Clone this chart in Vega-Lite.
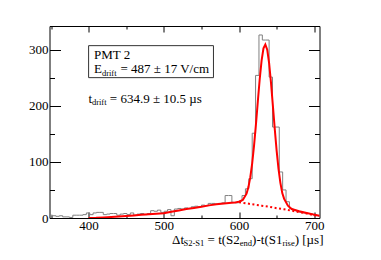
{
  "$schema": "https://vega.github.io/schema/vega-lite/v6.json",
  "width": 270,
  "height": 192,
  "autosize": "none",
  "padding": {"left": 49.5, "top": 26, "right": 61.5, "bottom": 42},
  "background": "white",
  "config": {
    "view": {"stroke": null},
    "axis": {
      "grid": false, "title": null, "domainColor": "black", "tickColor": "black",
      "domainWidth": 1, "tickWidth": 1, "labelFont": "Liberation Serif",
      "labelFontSize": 13, "labelColor": "black"
    },
    "text": {"font": "Liberation Serif", "color": "black"}
  },
  "datasets": {
    "hist": [
      {"t":347.5,"n":5},{"t":352,"n":4},{"t":356.5,"n":3},{"t":361,"n":4},{"t":365.5,"n":2},{"t":370,"n":2},{"t":374.5,"n":1},{"t":379,"n":5},{"t":383.5,"n":5},{"t":388,"n":5},{"t":392.5,"n":6},{"t":397,"n":9},{"t":401.5,"n":6},{"t":406,"n":9},{"t":410.5,"n":10},{"t":415,"n":10},{"t":419.5,"n":6},{"t":424,"n":7},{"t":428.5,"n":8},{"t":433,"n":8},{"t":437.5,"n":5},{"t":442,"n":7},{"t":446.5,"n":8},{"t":451,"n":6},{"t":455.5,"n":9},{"t":460,"n":5},{"t":464.5,"n":7},{"t":469,"n":8},{"t":473.5,"n":6},{"t":478,"n":8},{"t":482.5,"n":13},{"t":487,"n":12},{"t":491.5,"n":14},{"t":496,"n":10},{"t":500.5,"n":12},{"t":505,"n":15},{"t":509.5,"n":4},{"t":514,"n":16},{"t":518.5,"n":17},{"t":523,"n":16},{"t":527.5,"n":18},{"t":532,"n":17},{"t":536.5,"n":20},{"t":541,"n":21},{"t":545.5,"n":20},{"t":550,"n":23},{"t":554.5,"n":22},{"t":559,"n":26},{"t":563.5,"n":26},{"t":568,"n":25},{"t":572.5,"n":26},{"t":577,"n":27},{"t":581.5,"n":40},{"t":586,"n":40},{"t":590.5,"n":28},{"t":595,"n":27},{"t":599.5,"n":30},{"t":604,"n":40},{"t":608.5,"n":52},{"t":613,"n":70},{"t":617.5,"n":151},{"t":622,"n":254},{"t":626.5,"n":326},{"t":631,"n":317},{"t":635.5,"n":317},{"t":640,"n":251},{"t":644.5,"n":162},{"t":649,"n":162},{"t":653.5,"n":82},{"t":658,"n":50},{"t":662.5,"n":29},{"t":667,"n":17},{"t":671.5,"n":14},{"t":676,"n":12},{"t":680.5,"n":10},{"t":685,"n":9},{"t":689.5,"n":8},{"t":694,"n":7},{"t":698.5,"n":5},{"t":703,"n":4},{"t":707.5,"n":4}
    ],
    "fit": [
      {"t":400,"f":0},{"t":410,"f":0.3},{"t":420,"f":1},{"t":430,"f":1.8},{"t":440,"f":2.7},{"t":450,"f":3.6},{"t":460,"f":4.6},{"t":470,"f":5.6},{"t":480,"f":6.6},{"t":490,"f":7.5},{"t":500,"f":8.5},{"t":510,"f":11},{"t":520,"f":13.5},{"t":530,"f":16},{"t":540,"f":18},{"t":550,"f":20},{"t":560,"f":22.5},{"t":570,"f":24.5},{"t":580,"f":26},{"t":590,"f":27.3},{"t":595,"f":27.8},{"t":600,"f":29.2},{"t":605,"f":32},{"t":610,"f":43.3},{"t":612.5,"f":55.1},{"t":615,"f":72.8},{"t":617.5,"f":97.5},{"t":620,"f":129.2},{"t":622.5,"f":166.9},{"t":625,"f":207.6},{"t":627.5,"f":247.2},{"t":630,"f":280.3},{"t":632.5,"f":302.1},{"t":635,"f":309},{"t":637.5,"f":299.8},{"t":640,"f":276},{"t":642.5,"f":241.2},{"t":645,"f":200.3},{"t":647.5,"f":158.7},{"t":650,"f":119.9},{"t":652.5,"f":87.7},{"t":655,"f":62.6},{"t":657.5,"f":44.4},{"t":660,"f":34},{"t":665,"f":22},{"t":670,"f":16},{"t":680,"f":12},{"t":690,"f":9},{"t":700,"f":6},{"t":707,"f":4}
    ],
    "bg": [
      {"t":600,"b":28},{"t":610,"b":26},{"t":620,"b":24},{"t":630,"b":22},{"t":640,"b":20},{"t":650,"b":17.5},{"t":660,"b":15.5},{"t":670,"b":13},{"t":680,"b":10.5},{"t":690,"b":8},{"t":700,"b":5},{"t":707,"b":3.5}
    ],
    "box": [{"x1":400,"x2":566,"y1":250,"y2":307}],
    "main": [
      {"x":407.2,"y":282.7,"txt":"PMT 2"},
      {"x":407.2,"y":257.7,"txt":"E"},
      {"x":442.4,"y":257.7,"txt":"= 487 ± 17 V/cm"},
      {"x":400,"y":204.3,"txt":"t"},
      {"x":428.2,"y":204.3,"txt":"= 634.9 ± 10.5 µs"},
      {"x":510.9,"y":-45.6,"txt":"Δt"},
      {"x":558.2,"y":-45.6,"txt":"= t(S2"},
      {"x":617.4,"y":-45.6,"txt":")-t(S1"},
      {"x":674.0,"y":-45.6,"txt":") [µs]"}
    ],
    "subs": [
      {"x":417.7,"y":253.8,"txt":"drift"},
      {"x":404.4,"y":200.4,"txt":"drift"},
      {"x":526.25,"y":-50.1,"txt":"S2-S1"},
      {"x":601.0,"y":-50.1,"txt":"end"},
      {"x":657.7,"y":-50.1,"txt":"rise"}
    ]
  },
  "resolve": {"axis": {"x": "independent", "y": "independent"}},
  "layer": [
    {
      "data": {"name": "hist"},
      "mark": {"type": "line", "interpolate": "step-after", "color": "#808080", "strokeWidth": 1, "clip": true},
      "encoding": {
        "x": {"field": "t", "type": "quantitative", "scale": {"domain": [348, 707], "nice": false, "zero": false},
          "axis": {"orient": "bottom", "values": [400, 500, 600, 700], "tickSize": -6, "labelPadding": 7.5, "labelBaseline": "top"}},
        "y": {"field": "n", "type": "quantitative", "scale": {"domain": [0, 342], "nice": false, "zero": false},
          "axis": {"orient": "left", "values": [0, 100, 200, 300], "tickSize": -11, "labelPadding": 12.5}}
      }
    },
    {
      "data": {"name": "fit"},
      "mark": {"type": "line", "color": "#ff0000", "strokeWidth": 2, "clip": true},
      "encoding": {
        "x": {"field": "t", "type": "quantitative", "scale": {"domain": [348, 707], "nice": false, "zero": false},
          "axis": {"orient": "bottom", "values": [350, 450, 550, 650], "tickSize": -3, "labels": false, "domain": false}},
        "y": {"field": "f", "type": "quantitative", "scale": {"domain": [0, 342], "nice": false, "zero": false},
          "axis": {"orient": "left", "values": [50, 150, 250], "tickSize": -5, "labels": false, "domain": false}}
      }
    },
    {
      "data": {"name": "bg"},
      "mark": {"type": "line", "color": "#ff0000", "strokeWidth": 2, "strokeDash": [2, 2.5], "clip": true},
      "encoding": {
        "x": {"field": "t", "type": "quantitative", "scale": {"domain": [348, 707], "nice": false, "zero": false},
          "axis": {"orient": "top", "values": [400, 500, 600, 700], "tickSize": -6, "labels": false}},
        "y": {"field": "b", "type": "quantitative", "scale": {"domain": [0, 342], "nice": false, "zero": false},
          "axis": {"orient": "right", "values": [0, 100, 200, 300], "tickSize": -11, "labels": false}}
      }
    },
    {
      "data": {"name": "box"},
      "mark": {"type": "rect", "filled": false, "stroke": "#333333", "strokeWidth": 1},
      "encoding": {
        "x": {"field": "x1", "type": "quantitative", "scale": {"domain": [348, 707], "nice": false, "zero": false},
          "axis": {"orient": "top", "values": [350, 450, 550, 650], "tickSize": -3, "labels": false, "domain": false}},
        "x2": {"field": "x2"},
        "y": {"field": "y1", "type": "quantitative", "scale": {"domain": [0, 342], "nice": false, "zero": false},
          "axis": {"orient": "right", "values": [50, 150, 250], "tickSize": -5, "labels": false, "domain": false}},
        "y2": {"field": "y2"}
      }
    },
    {
      "data": {"name": "main"},
      "mark": {"type": "text", "align": "left", "baseline": "alphabetic", "fontSize": 13},
      "encoding": {
        "x": {"field": "x", "type": "quantitative", "scale": {"domain": [348, 707], "nice": false, "zero": false}, "axis": null},
        "y": {"field": "y", "type": "quantitative", "scale": {"domain": [0, 342], "nice": false, "zero": false}, "axis": null},
        "text": {"field": "txt"}
      }
    },
    {
      "data": {"name": "subs"},
      "mark": {"type": "text", "align": "left", "baseline": "alphabetic", "fontSize": 8.5},
      "encoding": {
        "x": {"field": "x", "type": "quantitative", "scale": {"domain": [348, 707], "nice": false, "zero": false}, "axis": null},
        "y": {"field": "y", "type": "quantitative", "scale": {"domain": [0, 342], "nice": false, "zero": false}, "axis": null},
        "text": {"field": "txt"}
      }
    }
  ]
}
